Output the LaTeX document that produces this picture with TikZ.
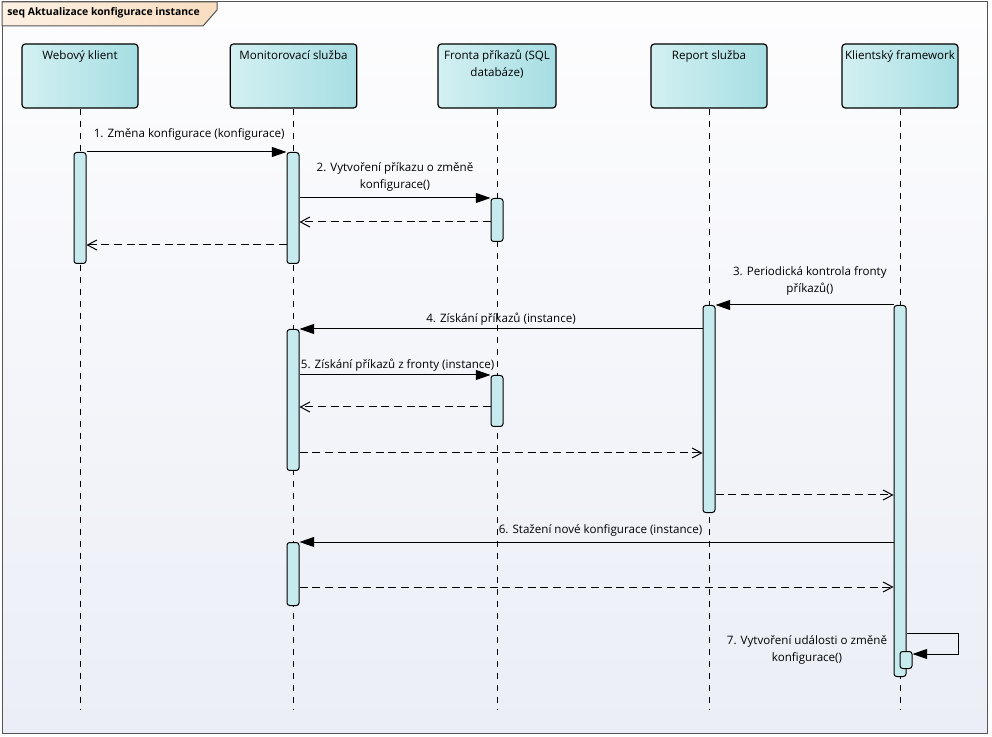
\documentclass[tikz,border=0pt]{standalone}
\usepackage{fontspec}
\setmainfont{Open Sans}
\usetikzlibrary{arrows.meta}
\definecolor{headL}{HTML}{D3F0F2}
\definecolor{headR}{HTML}{A6DEE3}
\definecolor{actcol}{HTML}{C6EAED}
\definecolor{tabL}{HTML}{FDF1E4}
\definecolor{tabR}{HTML}{F8DDC0}
\definecolor{bgtop}{HTML}{FDFDFE}
\definecolor{bgbot}{HTML}{EBEEF6}
\definecolor{frm}{HTML}{555555}

\begin{document}
\begin{tikzpicture}[x=0.75pt, y=-0.75pt,
  head/.style={draw, line width=.9pt, rounded corners=2.5pt, left color=headL, right color=headR,
    minimum width=87pt, inner xsep=2pt, inner ysep=5.3pt, text height=6.5pt, text depth=30.9pt,
    align=center, font=\fontsize{8.7}{12.75}\selectfont},
  life/.style={line width=.75pt, dash pattern=on 5pt off 4pt},
  act/.style={draw, line width=.75pt, fill=actcol, rounded corners=2pt, anchor=north,
    minimum width=9pt, minimum height=#1*0.75pt, inner sep=0pt},
  call/.style={line width=.75pt, -{Triangle[length=11pt, width=7.5pt]}},
  ret/.style={line width=.75pt, dash pattern=on 6pt off 3.5pt, -{Straight Barb[length=7pt, width=7.5pt]}},
  msg/.style={font=\fontsize{8.7}{12.75}\selectfont, align=center, inner sep=1pt}]
  \useasboundingbox (0,0) rectangle (992,737);
  \shade[top color=bgtop, bottom color=bgbot] (2,2) rectangle (987,733);
  \draw[frm, line width=.75pt] (2,2) rectangle (987,733);
  \draw[frm, line width=.75pt, left color=tabL, right color=tabR]
    (2,2) -- (217,2) -- (217,10) -- (203,26) -- (2,26) -- cycle;
  \node[anchor=west, inner sep=0pt, font=\fontsize{7.8}{9}\selectfont\bfseries] (title) at (7,13) {seq Aktualizace konfigurace instance};

  \node[head] (web) at (80,76) {Webový klient};
  \node[head, minimum width=95pt] (mon) at (293.5,76) {Monitorovací služba};
  \node[head, minimum width=88.5pt, text height=19.25pt, text depth=18.15pt] (fro) at (497,76) {Fronta příkazů (SQL\\databáze)};
  \node[head] (rep) at (709,76) {Report služba};
  \node[head] (kli) at (900,76) {Klientský framework};

  \coordinate (bot) at (0,709);
  \foreach \n in {web,mon,fro,rep,kli}
    \draw[life] (\n.south) -- (\n.south |- bot);

  \node[act=111] (wa1) at (80,152) {};
  \node[act=111] (ma1) at (293,152) {};
  \node[act=43] (fa1) at (497,198) {};
  \node[act=207] (ra1) at (709,305) {};
  \node[act=371] (ka1) at (900,305) {};
  \node[act=141] (ma2) at (293,329) {};
  \node[act=51] (fa2) at (497,375) {};
  \node[act=63] (ma3) at (293,542) {};
  \node[act=17] (ka2) at (906,651) {};

  \draw[call] (wa1.north east) -- (ma1.north west) node[msg, midway, above=7.5pt, xshift=2pt] {1. Změna konfigurace (konfigurace)};
  \draw[call] (ma1.east |- fa1.north) -- (fa1.north west) node[msg, midway, above=4pt] {2. Vytvoření příkazu o změně\\konfigurace()};
  \draw[ret] (fa1.west |- 0,222) -- (ma1.east |- 0,222);
  \draw[ret] (ma1.west |- 0,245) -- (wa1.east |- 0,245);
  \draw[call] (ka1.north west) -- (ra1.north east) node[msg, midway, above=6pt, xshift=4pt] {3. Periodická kontrola fronty\\příkazů()};
  \draw[call] (ra1.west |- ma2.north) -- (ma2.north east) node[msg, midway, above=1.5pt] {4. Získání příkazů (instance)};
  \draw[call] (ma2.east |- fa2.north) -- (fa2.north west) node[msg, midway, above=1.5pt, xshift=2pt] {5. Získání příkazů z fronty (instance)};
  \draw[ret] (fa2.west |- 0,407) -- (ma2.east |- 0,407);
  \draw[ret] (ma2.east |- 0,453) -- (ra1.west |- 0,453);
  \draw[ret] (ra1.east |- 0,495) -- (ka1.west |- 0,495);
  \draw[call] (ka1.west |- ma3.north) -- (ma3.north east) node[msg, midway, above=3pt, xshift=3pt] {6. Stažení nové konfigurace (instance)};
  \draw[ret] (ma3.east |- 0,587) -- (ka1.west |- 0,587);
  \coordinate (loop) at (958,654);
  \draw[call] (ka1.east |- 0,633) -| (loop) -- (ka2.east |- loop);
  \node[msg] (m7) at (807,650) {7. Vytvoření události o změně\\konfigurace()};
\end{tikzpicture}
\end{document}
